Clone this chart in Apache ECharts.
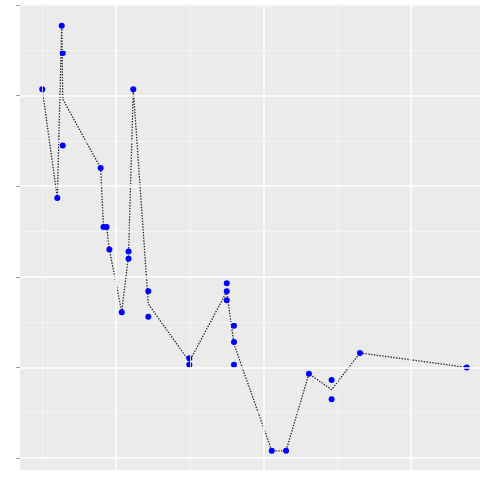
<!DOCTYPE html>
<html>
<head>
<meta charset="utf-8">
<script src="https://cdn.jsdelivr.net/npm/echarts@6/dist/echarts.min.js"></script>
<style>
  html, body { margin: 0; padding: 0; background: #fff; }
  #chart { width: 480px; height: 482px; }
</style>
</head>
<body>
<div id="chart"></div>
<script>
// Observations: x position and measured value
const xVals = [5.00, 6.02, 6.32, 6.39, 6.39, 8.96, 9.15, 9.36, 9.55, 10.39,
               10.85, 10.85, 11.17, 12.19, 12.19, 14.97, 14.97, 17.51, 17.51, 17.51,
               18.00, 18.00, 18.00, 20.56, 21.53, 23.08, 24.62, 24.62, 26.54, 33.78];
const yVals = [4.07, 2.87, 4.77, 4.47, 3.45, 3.20, 2.55, 2.55, 2.30, 1.61,
               2.28, 2.20, 4.07, 1.84, 1.56, 1.10, 1.03, 1.93, 1.84, 1.74,
               1.46, 1.28, 1.03, 0.08, 0.08, 0.93, 0.86, 0.65, 1.16, 1.00];

// Axis ranges and grid-line positions
const xRange = [3.49, 34.68];
const yRange = [-0.132, 5.01];
const xMajor = [10, 20, 30];
const xMinor = [5, 15, 25];
const yMajor = [0, 1, 2, 3, 4, 5];
const yMinor = [0.5, 1.5, 2.5, 3.5, 4.5];

const points = xVals.map((x, i) => [x, yVals[i]]);

// Mean value at each distinct x, joined in x order
const groups = new Map();
points.forEach(([x, y]) => {
  if (!groups.has(x)) groups.set(x, []);
  groups.get(x).push(y);
});
const meanLine = Array.from(groups.entries())
  .sort((a, b) => a[0] - b[0])
  .map(([x, ys]) => [x, ys.reduce((s, v) => s + v, 0) / ys.length]);

const minorStyle = { color: '#F5F5F5', width: 0.8, type: 'solid' };
const majorStyle = { color: '#FFFFFF', width: 1.5, type: 'solid' };
const gridLines = []
  .concat(xMinor.map(v => ({ xAxis: v, lineStyle: minorStyle })))
  .concat(yMinor.map(v => ({ yAxis: v, lineStyle: minorStyle })))
  .concat(xMajor.map(v => ({ xAxis: v, lineStyle: majorStyle })))
  .concat(yMajor.map(v => ({ yAxis: v, lineStyle: majorStyle })));

const chart = echarts.init(document.getElementById('chart'), null, { renderer: 'canvas' });
chart.setOption({
  animation: false,
  backgroundColor: '#FFFFFF',
  grid: {
    left: 20, right: 0, top: 4, bottom: 12,
    show: true, backgroundColor: '#EBEBEB', borderWidth: 0
  },
  xAxis: {
    type: 'value', min: xRange[0], max: xRange[1],
    axisLine: { show: false }, axisTick: { show: false },
    axisLabel: { show: false }, splitLine: { show: false }
  },
  yAxis: {
    type: 'value', min: yRange[0], max: yRange[1],
    axisLine: { show: false },
    axisTick: { show: true, length: 4, customValues: yMajor,
                lineStyle: { color: '#A0A0A0', width: 1 } },
    axisLabel: { show: false },
    splitLine: { show: false }
  },
  series: [
    {
      name: 'grid',
      type: 'scatter',
      data: [],
      silent: true,
      z: 1,
      markLine: {
        silent: true,
        symbol: 'none',
        label: { show: false },
        animation: false,
        data: gridLines
      }
    },
    {
      name: 'mean',
      type: 'line',
      data: meanLine,
      showSymbol: false,
      symbol: 'none',
      z: 2,
      lineStyle: { color: '#262626', width: 1.3, type: [1.4, 1.4] }
    },
    {
      name: 'obs',
      type: 'scatter',
      data: points,
      symbol: 'circle',
      symbolSize: 6,
      z: 3,
      itemStyle: { color: '#0000FF', opacity: 1 }
    }
  ]
});
</script>
</body>
</html>
